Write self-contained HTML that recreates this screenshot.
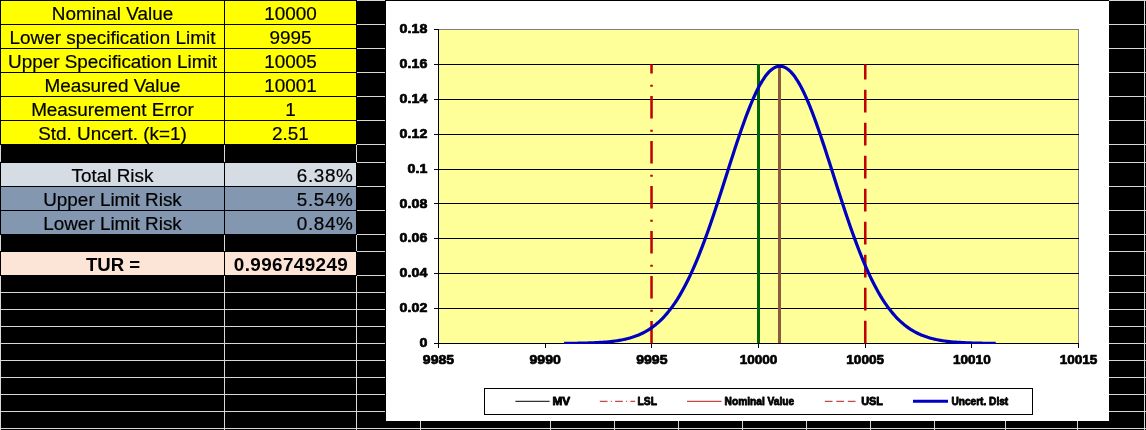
<!DOCTYPE html>
<html><head><meta charset="utf-8"><title>Risk</title>
<style>
html,body{margin:0;padding:0;}
body{width:1146px;height:430px;background:#000;overflow:hidden;position:relative;font-family:"Liberation Sans",sans-serif;}
.g{position:absolute;background:#d8d8d8;}
.c{position:absolute;box-sizing:border-box;color:#000;font-size:18.9px;line-height:24px;white-space:nowrap;overflow:hidden;-webkit-text-stroke:0.2px #000;}
.c span{display:inline-block;transform:translateY(0.5px);}
.a{left:1px;width:223px;text-align:center;}
.b{left:225px;width:131px;text-align:center;}
.r{text-align:right;padding-right:2.6px;letter-spacing:0.6px;}
.tv{letter-spacing:0.38px;padding-left:1px;}
.bd{font-weight:bold;-webkit-text-stroke:0;}
.a.bd{font-size:18.6px;padding-left:1px;}
#chart{position:absolute;left:385px;top:0;width:724px;height:421px;}
svg text{font-family:"Liberation Sans",sans-serif;font-weight:bold;fill:#000;}
</style></head><body>

<div class="g" style="left:0;top:0px;width:1146px;height:1px"></div>
<div class="g" style="left:0;top:24px;width:1146px;height:1px"></div>
<div class="g" style="left:0;top:48px;width:1146px;height:1px"></div>
<div class="g" style="left:0;top:72px;width:1146px;height:1px"></div>
<div class="g" style="left:0;top:96px;width:1146px;height:1px"></div>
<div class="g" style="left:0;top:120px;width:1146px;height:1px"></div>
<div class="g" style="left:0;top:144px;width:1146px;height:1px"></div>
<div class="g" style="left:0;top:162px;width:1146px;height:1px"></div>
<div class="g" style="left:0;top:186px;width:1146px;height:1px"></div>
<div class="g" style="left:0;top:210px;width:1146px;height:1px"></div>
<div class="g" style="left:0;top:234px;width:1146px;height:1px"></div>
<div class="g" style="left:0;top:251px;width:1146px;height:1px"></div>
<div class="g" style="left:0;top:275px;width:1146px;height:1px"></div>
<div class="g" style="left:0;top:292px;width:1146px;height:1px"></div>
<div class="g" style="left:0;top:309px;width:1146px;height:1px"></div>
<div class="g" style="left:0;top:326px;width:1146px;height:1px"></div>
<div class="g" style="left:0;top:343px;width:1146px;height:1px"></div>
<div class="g" style="left:0;top:360px;width:1146px;height:1px"></div>
<div class="g" style="left:0;top:377px;width:1146px;height:1px"></div>
<div class="g" style="left:0;top:394px;width:1146px;height:1px"></div>
<div class="g" style="left:0;top:411px;width:1146px;height:1px"></div>
<div class="g" style="left:0;top:428px;width:1146px;height:1px"></div>
<div class="g" style="left:0px;top:0;width:1px;height:430px"></div>
<div class="g" style="left:224px;top:0;width:1px;height:430px"></div>
<div class="g" style="left:356px;top:0;width:1px;height:430px"></div>
<div class="g" style="left:420px;top:0;width:1px;height:430px"></div>
<div class="g" style="left:550px;top:0;width:1px;height:430px"></div>
<div class="g" style="left:614px;top:0;width:1px;height:430px"></div>
<div class="g" style="left:678px;top:0;width:1px;height:430px"></div>
<div class="g" style="left:742px;top:0;width:1px;height:430px"></div>
<div class="g" style="left:806px;top:0;width:1px;height:430px"></div>
<div class="g" style="left:870px;top:0;width:1px;height:430px"></div>
<div class="g" style="left:934px;top:0;width:1px;height:430px"></div>
<div class="g" style="left:1005px;top:0;width:1px;height:430px"></div>
<div class="g" style="left:1077px;top:0;width:1px;height:430px"></div>
<div class="g" style="left:1144px;top:0;width:1px;height:430px"></div>
<div style="position:absolute;left:0;top:0px;width:357px;height:25px;background:#000"></div>
<div style="position:absolute;left:0;top:24px;width:357px;height:25px;background:#000"></div>
<div style="position:absolute;left:0;top:48px;width:357px;height:25px;background:#000"></div>
<div style="position:absolute;left:0;top:72px;width:357px;height:25px;background:#000"></div>
<div style="position:absolute;left:0;top:96px;width:357px;height:25px;background:#000"></div>
<div style="position:absolute;left:0;top:120px;width:357px;height:25px;background:#000"></div>
<div style="position:absolute;left:0;top:162px;width:357px;height:25px;background:#000"></div>
<div style="position:absolute;left:0;top:186px;width:357px;height:25px;background:#000"></div>
<div style="position:absolute;left:0;top:210px;width:357px;height:25px;background:#000"></div>
<div style="position:absolute;left:0;top:251px;width:357px;height:25px;background:#000"></div>
<div class="c a" style="top:1px;height:23px;background:#ffff00"><span>Nominal Value</span></div>
<div class="c b" style="top:1px;height:23px;background:#ffff00"><span>10000</span></div>
<div class="c a" style="top:25px;height:23px;background:#ffff00"><span>Lower specification Limit</span></div>
<div class="c b" style="top:25px;height:23px;background:#ffff00"><span>9995</span></div>
<div class="c a" style="top:49px;height:23px;background:#ffff00"><span>Upper Specification Limit</span></div>
<div class="c b" style="top:49px;height:23px;background:#ffff00"><span>10005</span></div>
<div class="c a" style="top:73px;height:23px;background:#ffff00"><span>Measured Value</span></div>
<div class="c b" style="top:73px;height:23px;background:#ffff00"><span>10001</span></div>
<div class="c a" style="top:97px;height:23px;background:#ffff00"><span>Measurement Error</span></div>
<div class="c b" style="top:97px;height:23px;background:#ffff00"><span>1</span></div>
<div class="c a" style="top:121px;height:23px;background:#ffff00"><span>Std. Uncert. (k=1)</span></div>
<div class="c b" style="top:121px;height:23px;background:#ffff00"><span>2.51</span></div>
<div class="c a" style="top:163px;height:23px;background:#d6dce4"><span>Total Risk</span></div>
<div class="c b r" style="top:163px;height:23px;background:#d6dce4"><span>6.38%</span></div>
<div class="c a" style="top:187px;height:23px;background:#8497b0"><span>Upper Limit Risk</span></div>
<div class="c b r" style="top:187px;height:23px;background:#8497b0"><span>5.54%</span></div>
<div class="c a" style="top:211px;height:23px;background:#8497b0"><span>Lower Limit Risk</span></div>
<div class="c b r" style="top:211px;height:23px;background:#8497b0"><span>0.84%</span></div>
<div class="c a bd" style="top:252px;height:23px;background:#fce4d6"><span>TUR =</span></div>
<div class="c b bd tv" style="top:252px;height:23px;background:#fce4d6"><span>0.996749249</span></div>
<div id="chart"><svg width="724" height="421" viewBox="385 0 724 421">
<defs><clipPath id="pc"><rect x="438.1" y="28.9" width="641.0" height="315.1"/></clipPath></defs>
<rect x="385" y="0" width="724" height="421" fill="#000"/>
<rect x="386" y="1" width="723" height="420" fill="#fff"/>
<rect x="438.5" y="29.5" width="640.0" height="314.0" fill="#ffff99" stroke="#808080" stroke-width="1" shape-rendering="crispEdges"/>
<g stroke="#000" stroke-width="1" shape-rendering="crispEdges">
<line x1="438.6" y1="308.5" x2="1078.6" y2="308.5"/>
<line x1="438.6" y1="273.5" x2="1078.6" y2="273.5"/>
<line x1="438.6" y1="238.5" x2="1078.6" y2="238.5"/>
<line x1="438.6" y1="203.5" x2="1078.6" y2="203.5"/>
<line x1="438.6" y1="169.5" x2="1078.6" y2="169.5"/>
<line x1="438.6" y1="134.5" x2="1078.6" y2="134.5"/>
<line x1="438.6" y1="99.5" x2="1078.6" y2="99.5"/>
<line x1="438.6" y1="64.5" x2="1078.6" y2="64.5"/>
<line x1="438.5" y1="28.9" x2="438.5" y2="343.9"/>
<line x1="438.6" y1="343.5" x2="1079.0" y2="343.5"/>
<line x1="434.2" y1="343.5" x2="438.6" y2="343.5"/>
<line x1="434.2" y1="308.5" x2="438.6" y2="308.5"/>
<line x1="434.2" y1="273.5" x2="438.6" y2="273.5"/>
<line x1="434.2" y1="238.5" x2="438.6" y2="238.5"/>
<line x1="434.2" y1="203.5" x2="438.6" y2="203.5"/>
<line x1="434.2" y1="169.5" x2="438.6" y2="169.5"/>
<line x1="434.2" y1="134.5" x2="438.6" y2="134.5"/>
<line x1="434.2" y1="99.5" x2="438.6" y2="99.5"/>
<line x1="434.2" y1="64.5" x2="438.6" y2="64.5"/>
<line x1="434.2" y1="29.5" x2="438.6" y2="29.5"/>
<line x1="438.5" y1="343.4" x2="438.5" y2="347.9"/>
<line x1="545.5" y1="343.4" x2="545.5" y2="347.9"/>
<line x1="651.5" y1="343.4" x2="651.5" y2="347.9"/>
<line x1="758.5" y1="343.4" x2="758.5" y2="347.9"/>
<line x1="865.5" y1="343.4" x2="865.5" y2="347.9"/>
<line x1="971.5" y1="343.4" x2="971.5" y2="347.9"/>
<line x1="1078.5" y1="343.4" x2="1078.5" y2="347.9"/>
</g>
<g font-size="13.3" stroke="#000" stroke-width="0.7" stroke-linejoin="round">
<text transform="translate(427.3,347.10) scale(1.07,1)" text-anchor="end">0</text>
<text transform="translate(427.3,312.21) scale(1.07,1)" text-anchor="end">0.02</text>
<text transform="translate(427.3,277.32) scale(1.07,1)" text-anchor="end">0.04</text>
<text transform="translate(427.3,242.43) scale(1.07,1)" text-anchor="end">0.06</text>
<text transform="translate(427.3,207.54) scale(1.07,1)" text-anchor="end">0.08</text>
<text transform="translate(427.3,172.66) scale(1.07,1)" text-anchor="end">0.1</text>
<text transform="translate(427.3,137.77) scale(1.07,1)" text-anchor="end">0.12</text>
<text transform="translate(427.3,102.88) scale(1.07,1)" text-anchor="end">0.14</text>
<text transform="translate(427.3,67.99) scale(1.07,1)" text-anchor="end">0.16</text>
<text transform="translate(427.3,33.10) scale(1.07,1)" text-anchor="end">0.18</text>
<text transform="translate(438.50,363.6) scale(1.06,1)" text-anchor="middle">9985</text>
<text transform="translate(545.17,363.6) scale(1.06,1)" text-anchor="middle">9990</text>
<text transform="translate(651.83,363.6) scale(1.06,1)" text-anchor="middle">9995</text>
<text transform="translate(758.50,363.6) scale(1.02,1)" text-anchor="middle">10000</text>
<text transform="translate(865.17,363.6) scale(1.02,1)" text-anchor="middle">10005</text>
<text transform="translate(971.83,363.6) scale(1.02,1)" text-anchor="middle">10010</text>
<text transform="translate(1078.50,363.6) scale(1.02,1)" text-anchor="middle">10015</text>
</g>
<line x1="651.53" y1="343.45" x2="651.53" y2="64.34" stroke="#c00000" stroke-width="2.5" stroke-dasharray="22.4 9.3 2 11.3"/>
<line x1="865.27" y1="343.45" x2="865.27" y2="64.34" stroke="#c00000" stroke-width="2.5" stroke-dasharray="22.6 10.4"/>
<line x1="758.5" y1="343.45" x2="758.5" y2="63.84" stroke="#076607" stroke-width="3" shape-rendering="crispEdges"/>
<line x1="779.5" y1="343.45" x2="779.5" y2="66.19" stroke="#8c5a42" stroke-width="3" shape-rendering="crispEdges"/>
<polyline clip-path="url(#pc)" points="565.75,343.36 567.89,343.34 570.03,343.32 572.17,343.30 574.31,343.28 576.46,343.25 578.60,343.21 580.74,343.18 582.88,343.13 585.02,343.08 587.17,343.02 589.31,342.96 591.45,342.88 593.59,342.80 595.73,342.70 597.87,342.59 600.02,342.47 602.16,342.33 604.30,342.17 606.44,341.99 608.58,341.79 610.73,341.57 612.87,341.32 615.01,341.03 617.15,340.72 619.29,340.37 621.44,339.98 623.58,339.55 625.72,339.07 627.86,338.54 630.00,337.95 632.14,337.30 634.29,336.59 636.43,335.81 638.57,334.95 640.71,334.01 642.85,332.98 645.00,331.86 647.14,330.65 649.28,329.32 651.42,327.89 653.56,326.33 655.71,324.65 657.85,322.84 659.99,320.89 662.13,318.80 664.27,316.55 666.41,314.14 668.56,311.58 670.70,308.84 672.84,305.93 674.98,302.83 677.12,299.56 679.27,296.09 681.41,292.43 683.55,288.58 685.69,284.53 687.83,280.28 689.97,275.84 692.12,271.20 694.26,266.36 696.40,261.33 698.54,256.11 700.68,250.71 702.83,245.14 704.97,239.39 707.11,233.48 709.25,227.43 711.39,221.24 713.54,214.92 715.68,208.49 717.82,201.97 719.96,195.37 722.10,188.71 724.24,182.00 726.39,175.28 728.53,168.56 730.67,161.86 732.81,155.20 734.95,148.61 737.10,142.12 739.24,135.73 741.38,129.49 743.52,123.42 745.66,117.53 747.81,111.86 749.95,106.42 752.09,101.25 754.23,96.36 756.37,91.77 758.51,87.50 760.66,83.58 762.80,80.02 764.94,76.84 767.08,74.06 769.22,71.68 771.37,69.71 773.51,68.18 775.65,67.07 777.79,66.41 779.93,66.19 782.08,66.41 784.22,67.07 786.36,68.18 788.50,69.71 790.64,71.68 792.78,74.06 794.93,76.84 797.07,80.02 799.21,83.58 801.35,87.50 803.49,91.77 805.64,96.36 807.78,101.25 809.92,106.42 812.06,111.86 814.20,117.53 816.35,123.42 818.49,129.49 820.63,135.73 822.77,142.12 824.91,148.61 827.05,155.20 829.20,161.86 831.34,168.56 833.48,175.28 835.62,182.00 837.76,188.71 839.91,195.37 842.05,201.97 844.19,208.49 846.33,214.92 848.47,221.24 850.61,227.43 852.76,233.48 854.90,239.39 857.04,245.14 859.18,250.71 861.32,256.11 863.47,261.33 865.61,266.36 867.75,271.20 869.89,275.84 872.03,280.28 874.18,284.53 876.32,288.58 878.46,292.43 880.60,296.09 882.74,299.56 884.88,302.83 887.03,305.93 889.17,308.84 891.31,311.58 893.45,314.14 895.59,316.55 897.74,318.80 899.88,320.89 902.02,322.84 904.16,324.65 906.30,326.33 908.45,327.89 910.59,329.32 912.73,330.65 914.87,331.86 917.01,332.98 919.15,334.01 921.30,334.95 923.44,335.81 925.58,336.59 927.72,337.30 929.86,337.95 932.01,338.54 934.15,339.07 936.29,339.55 938.43,339.98 940.57,340.37 942.72,340.72 944.86,341.03 947.00,341.32 949.14,341.57 951.28,341.79 953.42,341.99 955.57,342.17 957.71,342.33 959.85,342.47 961.99,342.59 964.13,342.70 966.28,342.80 968.42,342.88 970.56,342.96 972.70,343.02 974.84,343.08 976.99,343.13 979.13,343.18 981.27,343.21 983.41,343.25 985.55,343.28 987.69,343.30 989.84,343.32 991.98,343.34 994.12,343.36" fill="none" stroke="#0000c0" stroke-width="3.2" stroke-linejoin="round" stroke-linecap="square"/>
<rect x="484.5" y="388.5" width="548" height="26" fill="#fff" stroke="#000" stroke-width="1" shape-rendering="crispEdges"/>
<g font-size="10.67" stroke="#000" stroke-width="0.8" stroke-linejoin="round">
<line x1="515.4" y1="401.3" x2="549.6" y2="401.3" stroke="#000" stroke-width="1"/>
<text x="552.5" y="404.7" textLength="17.6" lengthAdjust="spacingAndGlyphs">MV</text>
<line x1="599.8" y1="401.3" x2="635.1" y2="401.3" stroke="#b41a1a" stroke-width="1" stroke-dasharray="7.7 3.3 1 3.3"/>
<text x="637.6" y="404.7" textLength="19.4" lengthAdjust="spacingAndGlyphs">LSL</text>
<line x1="687.0" y1="401.3" x2="721.6" y2="401.3" stroke="#b41a1a" stroke-width="1"/>
<text x="724.6" y="404.7" textLength="69.6" lengthAdjust="spacingAndGlyphs">Nominal Value</text>
<line x1="824.8" y1="401.3" x2="859.0" y2="401.3" stroke="#b41a1a" stroke-width="1" stroke-dasharray="7.7 3.8"/>
<text x="861.2" y="404.7" textLength="21.8" lengthAdjust="spacingAndGlyphs">USL</text>
<line x1="913.0" y1="401.3" x2="948.0" y2="401.3" stroke="#0000c0" stroke-width="3"/>
<text x="951.4" y="404.7" textLength="56.8" lengthAdjust="spacingAndGlyphs">Uncert. Dist</text>
</g>
</svg></div>
</body></html>
